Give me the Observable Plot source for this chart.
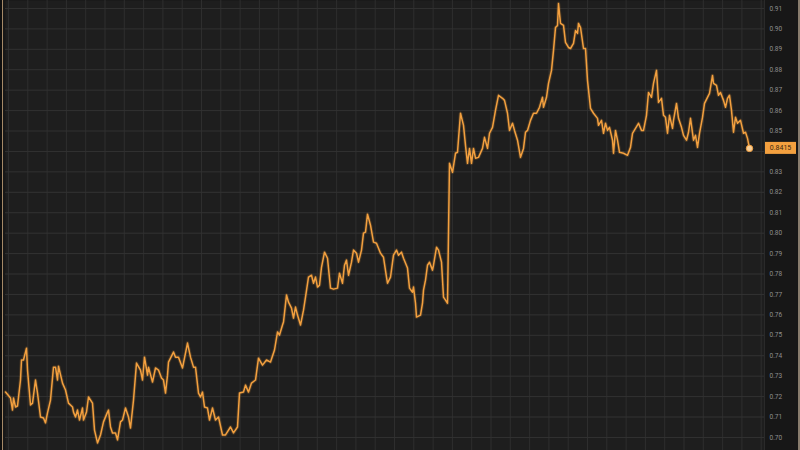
<!DOCTYPE html>
<html>
<head>
<meta charset="utf-8">
<script src="https://cdn.jsdelivr.net/npm/d3@7"></script>
<script src="https://cdn.jsdelivr.net/npm/@observablehq/plot@0.6"></script>
<style>
  html, body { margin: 0; padding: 0; background: #171717; }
  #chart svg { display: block; }
</style>
</head>
<body>
<div id="chart"></div>
<script>
// EUR/GBP-like daily series, dates given as day offsets from the first observation
const startDate = "2015-04-08";
const endDate = "2017-05-06";
const dayOffsets = [
  0,5,7,8,10,12,15,16,18,21, 22,25,27,30,32,35,38,40,42,45,
  48,50,52,53,57,60,63,67,68,70, 72,74,77,78,81,83,87,89,92,95,
  98,102,103,105,107,110,112,115,117,120, 123,125,128,131,135,137,139,142,143,147,
  150,153,156,158,160,162,163,168,170,173, 177,180,182,185,188,190,193,195,197,199,
  202,204,207,210,213,217,220,225,228,232, 234,238,240,243,246,250,253,257,261,265,
  269,272,274,277,278,281,283,286,288,290, 292,295,298,300,303,306,308,310,312,314,
  316,319,322,325,328,332,334,337,339,341, 343,346,348,351,353,356,358,360,362,365,
  368,371,375,378,381,382,385,388,391,393, 396,398,402,404,407,408,410,411,415,417,
  418,420,422,424,427,428,431,433,436,438, 440,442,
  444,447,450,452,455,458,460,462,464,466, 468,470,473,477,479,482,484,487,490,493,
  497,499,502,504,507,509,512,515,518,520, 522,525,528,531,534,537,538,541,543,546,
  548,550,552,553,555,558,560,563,565,568, 570,572,573,575,578,580,582,585,588,592,
  593,596,598,600,602,604,607,608,610,612, 614,618,622,625,627,630,633,636,638,641,
  643,646,648,651,653,656,658,660,662,664, 667,668,671,673,676,678,681,683,685,688,
  690,692,694,697,699,702,704,707,708,711, 713,715,718,720,722,724,726,728,730,732,
  735,738,740,742,744
];
const rates = [
  0.7222,0.7193,0.7134,0.7193,0.7149,0.7154,0.7281,0.7379,0.7379,0.7437,
  0.7330,0.7159,0.7168,0.7281,0.7217,0.7100,0.7095,0.7071,0.7120,0.7183,
  0.7344,0.7344,0.7281,0.7349,0.7266,0.7232,0.7168,0.7149,0.7124,0.7100,
  0.7134,0.7085,0.7144,0.7085,0.7124,0.7198,0.7168,0.7036,0.6973,0.7012,
  0.7076,0.7124,0.7134,0.7051,0.7022,0.7022,0.6988,0.7076,0.7085,0.7144,
  0.7100,0.7046,0.7183,0.7364,0.7330,0.7281,0.7393,0.7305,0.7344,0.7271,
  0.7340,0.7330,0.7291,0.7281,0.7217,0.7305,0.7369,0.7418,0.7393,0.7393,
  0.7340,0.7413,0.7462,0.7393,0.7344,0.7344,0.7217,0.7198,0.7222,0.7149,
  0.7144,0.7085,0.7144,0.7085,0.7100,0.7012,0.7012,0.7051,0.7022,0.7051,
  0.7217,0.7222,0.7256,0.7222,0.7266,0.7281,0.7388,0.7354,0.7379,0.7369,
  0.7428,0.7516,0.7501,0.7550,0.7565,0.7697,0.7662,0.7633,0.7584,0.7638,
  0.7599,0.7550,0.7623,0.7687,0.7785,0.7794,0.7755,0.7785,0.7736,0.7745,
  0.7833,0.7907,0.7877,0.7731,0.7726,0.7731,0.7804,0.7755,0.7843,0.7868,
  0.7794,0.7858,0.7917,0.7902,0.7858,0.7917,0.8000,0.8005,0.8093,0.8039,
  0.7956,0.7951,0.7902,0.7882,0.7785,0.7755,0.7785,0.7892,0.7917,0.7892,
  0.7907,0.7877,0.7829,0.7731,0.7711,0.7736,0.7657,0.7589,0.7599,0.7657,
  0.7721,0.7770,0.7843,0.7858,0.7819,0.7843,0.7931,0.7917,0.7858,0.7687,
  0.7672,0.7657,
  0.8342,0.8298,0.8391,0.8396,0.8587,0.8528,0.8430,0.8342,0.8415,0.8342,
  0.8415,0.8367,0.8371,0.8415,0.8469,0.8415,0.8489,0.8518,0.8601,0.8675,
  0.8660,0.8650,0.8587,0.8503,0.8538,0.8503,0.8455,0.8371,0.8415,0.8494,
  0.8503,0.8552,0.8587,0.8587,0.8616,0.8665,0.8616,0.8665,0.8733,0.8797,
  0.8895,0.9007,0.9017,0.9124,0.9027,0.9017,0.8934,0.8909,0.8904,0.8929,
  0.8992,0.8978,0.9027,0.9007,0.8904,0.8904,0.8748,0.8611,0.8587,0.8562,
  0.8528,0.8552,0.8489,0.8538,0.8503,0.8518,0.8455,0.8391,0.8503,0.8455,
  0.8396,0.8391,0.8381,0.8420,0.8489,0.8513,0.8538,0.8503,0.8503,0.8577,
  0.8689,0.8665,0.8733,0.8797,0.8640,0.8660,0.8577,0.8567,0.8489,0.8577,
  0.8513,0.8552,0.8635,0.8562,0.8518,0.8479,0.8455,0.8494,0.8562,0.8455,
  0.8479,0.8420,0.8489,0.8567,0.8635,0.8665,0.8684,0.8772,0.8733,0.8723,
  0.8675,0.8689,0.8650,0.8616,0.8660,0.8675,0.8601,0.8494,0.8567,0.8538,
  0.8552,0.8489,0.8494,0.8464,0.8415
];
// gridline levels (every 0.01); the 0.84 label is covered by the last-value box in the original
const yTicks = [0.70,0.71,0.72,0.73,0.74,0.75,0.76,0.77,0.78,0.79,0.80,0.81,0.82,0.83,0.84,0.85,0.86,0.87,0.88,0.89,0.90,0.91];
const yTickLabels = [0.70,0.71,0.72,0.73,0.74,0.75,0.76,0.77,0.78,0.79,0.80,0.81,0.82,0.83,0.85,0.86,0.87,0.88,0.89,0.90,0.91];
const lastLabel = "0.8415";

const t0 = new Date(startDate + "T00:00:00Z");
const t1 = new Date(endDate + "T00:00:00Z");
const data = dayOffsets.map((d, i) => ({date: d3.utcDay.offset(t0, d), value: rates[i]}));
const last = data[data.length - 1];
const gridDates = d3.range(3, 760, 19.3).map(d => new Date(+t0 + d * 864e5));

const W = 800, H = 450, ML = 5, MR = 36;
const orange = "#f3a03f";

const chart = Plot.plot({
  width: W, height: H,
  marginLeft: ML, marginRight: MR, marginTop: 0, marginBottom: 0,
  style: {background: "#171717", fontFamily: "Roboto, 'DejaVu Sans', sans-serif"},
  x: {type: "utc", domain: [t0, t1], axis: null},
  y: {domain: [0.6936, 0.9139], axis: null},
  marks: [
    Plot.frame({fill: "#1e1e1e", stroke: null}),
    Plot.gridX(gridDates, {stroke: "#2e2e2e", strokeOpacity: 1, strokeWidth: 1}),
    Plot.gridY(yTicks, {stroke: "#323232", strokeOpacity: 1, strokeWidth: 1}),
    Plot.ruleX([t1], {stroke: "#2a2a2a"}),
    Plot.axisY(yTickLabels, {anchor: "right", tickSize: 0, tickPadding: 5, tickFormat: ".2f",
      fill: "#8f8f8f", fontSize: 6.5, textAnchor: "start", label: null}),
    Plot.line(data, {x: "date", y: "value", stroke: orange, strokeWidth: 3.5, strokeOpacity: 0.18}),
    Plot.line(data, {x: "date", y: "value", stroke: orange, strokeWidth: 1.5}),
    Plot.dot([last], {x: "date", y: "value", r: 3.2, fill: "#f8cf98", stroke: orange, strokeWidth: 1})
  ]
});

// value label box in the right axis panel, positioned via Plot's y scale
const ys = chart.scale("y");
const yLast = ys.apply(last.value);
const svg = d3.select(chart);
const g = svg.append("g");
g.append("rect").attr("x", W - MR + 1).attr("y", yLast - 6).attr("width", 31).attr("height", 12)
  .attr("fill", orange);
g.append("text").attr("x", W - MR + 16.5).attr("y", yLast).attr("dy", "0.35em")
  .attr("text-anchor", "middle").attr("font-size", 7).attr("fill", "#3b2a12")
  .attr("font-family", "Roboto, 'DejaVu Sans', sans-serif").text(lastLabel);
// thin frame edges as in the screenshot
svg.append("rect").attr("x", 0).attr("y", 0).attr("width", 2).attr("height", H).attr("fill", "#0e0e0e");
svg.append("rect").attr("x", 2).attr("y", 0).attr("width", 1).attr("height", H).attr("fill", "#c9a67c").attr("opacity", 0.8);
svg.append("rect").attr("x", W - 2).attr("y", 0).attr("width", 2).attr("height", H).attr("fill", "#b9a893").attr("opacity", 0.7);

document.getElementById("chart").append(chart);
</script>
</body>
</html>
